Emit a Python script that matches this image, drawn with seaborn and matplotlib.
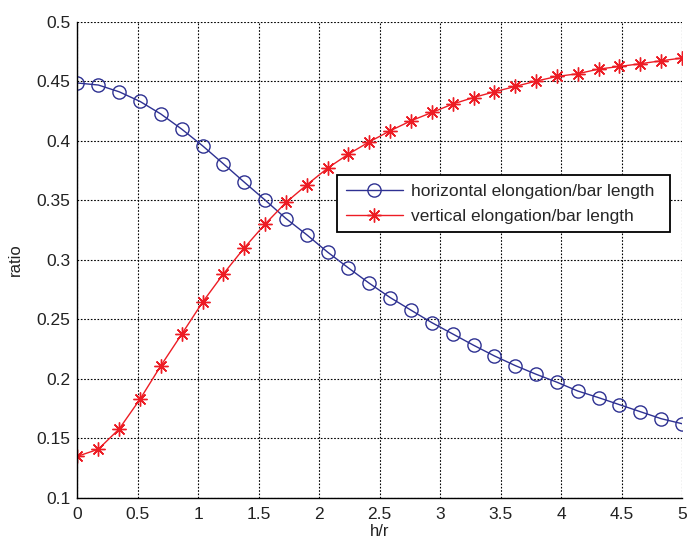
import numpy as np
import pandas as pd
import matplotlib
matplotlib.use("Agg")
import matplotlib.pyplot as plt
import seaborn as sns

sns.set_style("white")
plt.rcParams['font.family'] = ['Liberation Sans', 'DejaVu Sans']

# sample positions h/r (30 samples from 0 to 5)
h_r = [0.0, 0.1724, 0.3448, 0.5172, 0.6897, 0.8621, 1.0345, 1.2069, 1.3793, 1.5517,
       1.7241, 1.8966, 2.0690, 2.2414, 2.4138, 2.5862, 2.7586, 2.9310, 3.1034, 3.2759,
       3.4483, 3.6207, 3.7931, 3.9655, 4.1379, 4.3103, 4.4828, 4.6552, 4.8276, 5.0]

horizontal = [0.4487, 0.4470, 0.4413, 0.4332, 0.4226, 0.4099, 0.3959, 0.3807, 0.3653, 0.3502,
              0.3347, 0.3210, 0.3064, 0.2931, 0.2802, 0.2682, 0.2576, 0.2471, 0.2376, 0.2281,
              0.2191, 0.2110, 0.2037, 0.1970, 0.1896, 0.1840, 0.1781, 0.1722, 0.1663, 0.1621]

vertical = [0.1347, 0.1406, 0.1577, 0.1827, 0.2109, 0.2374, 0.2643, 0.2881, 0.3100, 0.3300,
            0.3482, 0.3630, 0.3771, 0.3889, 0.3992, 0.4085, 0.4169, 0.4239, 0.4310, 0.4365,
            0.4413, 0.4458, 0.4503, 0.4542, 0.4565, 0.4604, 0.4626, 0.4649, 0.4674, 0.4697]

labels = ["horizontal elongation/bar length", "vertical elongation/bar length"]
x_ticks = [0, 0.5, 1, 1.5, 2, 2.5, 3, 3.5, 4, 4.5, 5]
x_ticklabels = ["0", "0.5", "1", "1.5", "2", "2.5", "3", "3.5", "4", "4.5", "5"]
y_ticks = [0.1, 0.15, 0.2, 0.25, 0.3, 0.35, 0.4, 0.45, 0.5]
y_ticklabels = ["0.1", "0.15", "0.2", "0.25", "0.3", "0.35", "0.4", "0.45", "0.5"]

df = pd.DataFrame({"h/r": h_r, "horizontal": horizontal, "vertical": vertical})

blue = "#2e3192"
red = "#ed1c24"
txt = "#222222"

fig = plt.figure(figsize=(6.87, 5.41), dpi=100)
ax = fig.add_axes([0.1128, 0.0804, 0.8799, 0.8789])

sns.lineplot(data=df, x="h/r", y="horizontal", ax=ax, color=blue, linewidth=1.0,
             marker="o", markersize=9.5, markerfacecolor="none", markeredgecolor=blue,
             markeredgewidth=1.0, label=labels[0])
sns.lineplot(data=df, x="h/r", y="vertical", ax=ax, color=red, linewidth=1.0,
             marker=(8, 2, 0), markersize=10, markerfacecolor=red, markeredgecolor=red,
             markeredgewidth=1.0, label=labels[1])

ax.set_xlim(0, 5)
ax.set_ylim(0.1, 0.5)
ax.set_xticks(x_ticks)
ax.set_xticklabels(x_ticklabels)
ax.set_yticks(y_ticks)
ax.set_yticklabels(y_ticklabels)
ax.tick_params(direction="in", length=4, width=0.8, labelsize=12.5, colors=txt,
               top=False, right=False)
ax.tick_params(axis="x", pad=7)
ax.tick_params(axis="y", pad=5)
ax.grid(True, linestyle=(0, (1.5, 1.5)), color="black", linewidth=0.8)
for s in ["top", "right"]:
    ax.spines[s].set_visible(False)
for s in ["left", "bottom"]:
    ax.spines[s].set_color("black")
    ax.spines[s].set_linewidth(1.0)

ax.set_xlabel("h/r", fontsize=12, color=txt, labelpad=1)
ax.set_ylabel("ratio", fontsize=12, color=txt, labelpad=10)

leg = ax.legend(loc="upper left", bbox_to_anchor=(0.429, 0.556, 0.551, 0.122),
                mode="expand", fontsize=12.5,
                frameon=True, fancybox=False, edgecolor="black", framealpha=1,
                borderpad=0.5, handlelength=3.3, labelspacing=0.55, borderaxespad=0,
                handletextpad=0.5)
leg.get_frame().set_linewidth(1.3)

fig.savefig("out.png", dpi=100)
